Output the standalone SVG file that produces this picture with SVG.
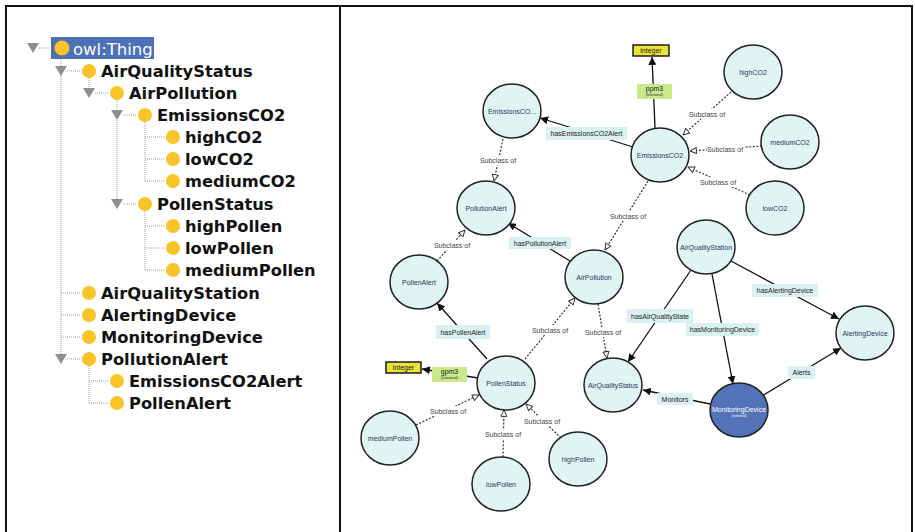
<svg xmlns="http://www.w3.org/2000/svg" width="915" height="532" viewBox="0 0 915 532">
<defs>
<style>
.tri{fill:#8e8e8e}
.tl{stroke:#a0a0a0;stroke-width:1;stroke-dasharray:1 1;fill:none}
.ic{fill:#F8C427}
.cls{font-family:"DejaVu Sans",Verdana,sans-serif;font-weight:bold;font-size:16.3px;fill:#111}
.nd{fill:#E1F4F4;stroke:#222;stroke-width:1.5}
.nt{font-family:"Liberation Sans",Arial,sans-serif;font-size:7px;fill:#24375a;text-anchor:middle}
.prop{stroke:#111;stroke-width:1.3;fill:none;marker-end:url(#arr)}
.sub{stroke:#333;stroke-width:1.2;stroke-dasharray:2 1.6;fill:none;marker-end:url(#hol)}
.lb{fill:#DBF1F1}
.lt{font-family:"Liberation Sans",Arial,sans-serif;font-size:7px;fill:#222;text-anchor:middle}
.st{font-family:"Liberation Sans",Arial,sans-serif;font-size:7px;fill:#444;text-anchor:middle}
.sbg{fill:#fff}
.dt{fill:#E9E23A;stroke:#111;stroke-width:1.4}
.fn{fill:#C9EA8C}
</style>
<marker id="arr" viewBox="0 0 10 10" refX="10" refY="5" markerWidth="8" markerHeight="8" markerUnits="userSpaceOnUse" orient="auto">
<path d="M0,0 L10,5 L0,10 z" fill="#111"/>
</marker>
<marker id="hol" viewBox="0 0 10 10" refX="9.5" refY="5" markerWidth="7.5" markerHeight="7.5" markerUnits="userSpaceOnUse" orient="auto">
<path d="M1,1 L9.5,5 L1,9 z" fill="#fff" stroke="#333" stroke-width="1.3" stroke-dasharray="none"/>
</marker>
</defs>
<rect width="915" height="532" fill="#fff"/>
<path d="M6,532 V6 H912 V532 M340,6 V532" fill="none" stroke="#111" stroke-width="2"/>

<!-- Left tree -->
<g id="tree-lines">
<path class="tl" d="M61,59 V359 M89,78 V93 M117,100 V204 M145,122 V181 M145,211 V270 M89,366 V403"/>
<path class="tl" d="M39,48 H54 M67,71 H81 M95,93 H109 M123,115 H137 M145,137 H165 M145,159 H165 M145,181 H165 M123,204 H137 M145,226 H165 M145,248 H165 M145,270 H165 M61,293 H81 M61,315 H81 M61,337 H81 M67,359 H81 M89,381 H109 M89,403 H109"/>
</g>
<g id="t-owlThing">
<rect x="51" y="37" width="103" height="22" fill="#4d71b6"/>
<path class="tri" d="M27,43 H39 L33,53 z"/>
<circle class="ic" cx="62" cy="48" r="7.5"/>
<text x="73" y="55" font-family="DejaVu Sans,Verdana,sans-serif" font-size="16.5" fill="#fff">owl:Thing</text>
</g>
<g id="t-AirQualityStatus"><path class="tri" d="M55,66 H67 L61,76 z"/><circle class="ic" cx="89" cy="71" r="7"/><text class="cls" x="101" y="77">AirQualityStatus</text></g>
<g id="t-AirPollution"><path class="tri" d="M83,88 H95 L89,98 z"/><circle class="ic" cx="117" cy="93" r="7"/><text class="cls" x="129" y="99">AirPollution</text></g>
<g id="t-EmissionsCO2"><path class="tri" d="M111,110 H123 L117,120 z"/><circle class="ic" cx="145" cy="115" r="7"/><text class="cls" x="157" y="121">EmissionsCO2</text></g>
<g id="t-highCO2"><circle class="ic" cx="173" cy="137" r="7"/><text class="cls" x="185" y="143">highCO2</text></g>
<g id="t-lowCO2"><circle class="ic" cx="173" cy="159" r="7"/><text class="cls" x="185" y="165">lowCO2</text></g>
<g id="t-mediumCO2"><circle class="ic" cx="173" cy="181" r="7"/><text class="cls" x="185" y="187">mediumCO2</text></g>
<g id="t-PollenStatus"><path class="tri" d="M111,199 H123 L117,209 z"/><circle class="ic" cx="145" cy="204" r="7"/><text class="cls" x="157" y="210">PollenStatus</text></g>
<g id="t-highPollen"><circle class="ic" cx="173" cy="226" r="7"/><text class="cls" x="185" y="232">highPollen</text></g>
<g id="t-lowPollen"><circle class="ic" cx="173" cy="248" r="7"/><text class="cls" x="185" y="254">lowPollen</text></g>
<g id="t-mediumPollen"><circle class="ic" cx="173" cy="270" r="7"/><text class="cls" x="185" y="276">mediumPollen</text></g>
<g id="t-AirQualityStation"><circle class="ic" cx="89" cy="293" r="7"/><text class="cls" x="101" y="299">AirQualityStation</text></g>
<g id="t-AlertingDevice"><circle class="ic" cx="89" cy="315" r="7"/><text class="cls" x="101" y="321">AlertingDevice</text></g>
<g id="t-MonitoringDevice"><circle class="ic" cx="89" cy="337" r="7"/><text class="cls" x="101" y="343">MonitoringDevice</text></g>
<g id="t-PollutionAlert"><path class="tri" d="M55,354 H67 L61,364 z"/><circle class="ic" cx="89" cy="359" r="7"/><text class="cls" x="101" y="365">PollutionAlert</text></g>
<g id="t-EmissionsCO2Alert"><circle class="ic" cx="117" cy="381" r="7"/><text class="cls" x="129" y="387">EmissionsCO2Alert</text></g>
<g id="t-PollenAlert"><circle class="ic" cx="117" cy="403" r="7"/><text class="cls" x="129" y="409">PollenAlert</text></g>

<!-- Graph connectors -->
<g id="connectors">
<path class="prop" d="M633,147 L540,118"/>
<path class="prop" d="M655,128 L652,57"/>
<path class="prop" d="M570,261 L508,223"/>
<path class="prop" d="M487,359 L437,303"/>
<path class="prop" d="M478,378 L422,369"/>
<path class="prop" d="M691,270 L628,362"/>
<path class="prop" d="M712,274 L733,384"/>
<path class="prop" d="M731,261 L839,319"/>
<path class="prop" d="M762,396 L841,348"/>
<path class="prop" d="M710,404 L643,390"/>
<path class="sub" d="M503,139 L494,181"/>
<path class="sub" d="M648,181 L605,250"/>
<path class="sub" d="M731,92 L683,135"/>
<path class="sub" d="M762,146 L690,151"/>
<path class="sub" d="M750,195 L688,167"/>
<path class="sub" d="M437,261 L465,230"/>
<path class="sub" d="M525,359 L575,298"/>
<path class="sub" d="M598,304 L607,358"/>
<path class="sub" d="M416,425 L479,395"/>
<path class="sub" d="M503,457 L504,410"/>
<path class="sub" d="M561,438 L526,404"/>
<!-- property labels -->
<rect class="lb" x="546" y="127" width="81" height="13"/><text class="lt" x="586.5" y="136">hasEmissionsCO2Alert</text>
<rect class="fn" x="637" y="84" width="35" height="15"/><text class="lt" x="654.5" y="91" font-size="6.5">ppm3</text><text class="lt" transform="translate(654.5,96.3) scale(0.5)" font-size="8">(functional)</text>
<rect class="lb" x="509" y="237" width="62" height="12"/><text class="lt" x="540" y="246">hasPollutionAlert</text>
<rect class="lb" x="436" y="325" width="54" height="14"/><text class="lt" x="463" y="334.5">hasPollenAlert</text>
<rect class="fn" x="432" y="367" width="35" height="15"/><text class="lt" x="449.5" y="374" font-size="6.5">gpm3</text><text class="lt" transform="translate(449.5,379.3) scale(0.5)" font-size="8">(functional)</text>
<rect class="lb" x="627" y="309" width="66" height="14"/><text class="lt" x="660" y="318.5">hasAirQualityState</text>
<rect class="lb" x="686" y="323" width="73" height="13"/><text class="lt" x="722.5" y="332">hasMonitoringDevice</text>
<rect class="lb" x="752" y="284" width="66" height="13"/><text class="lt" x="785" y="293">hasAlertingDevice</text>
<rect class="lb" x="788" y="366" width="27" height="13"/><text class="lt" x="801.5" y="375">Alerts</text>
<rect class="lb" x="657" y="393" width="36" height="12"/><text class="lt" x="675" y="401.5">Monitors</text>
<!-- subclass labels -->
<rect class="sbg" x="480" y="155" width="37" height="10"/><text class="st" x="498" y="162.5">Subclass of</text>
<rect class="sbg" x="610" y="211" width="37" height="10"/><text class="st" x="628" y="218.5">Subclass of</text>
<rect class="sbg" x="689" y="109" width="37" height="10"/><text class="st" x="707" y="116.5">Subclass of</text>
<rect class="sbg" x="707" y="144" width="37" height="10"/><text class="st" x="725" y="151.5">Subclass of</text>
<rect class="sbg" x="700" y="177" width="37" height="10"/><text class="st" x="718" y="184.5">Subclass of</text>
<rect class="sbg" x="434" y="240" width="37" height="10"/><text class="st" x="452" y="247.5">Subclass of</text>
<rect class="sbg" x="532" y="325" width="37" height="10"/><text class="st" x="550" y="332.5">Subclass of</text>
<rect class="sbg" x="585" y="327" width="37" height="10"/><text class="st" x="603" y="334.5">Subclass of</text>
<rect class="sbg" x="430" y="406" width="37" height="10"/><text class="st" x="448" y="413.5">Subclass of</text>
<rect class="sbg" x="485" y="429" width="37" height="10"/><text class="st" x="503" y="436.5">Subclass of</text>
<rect class="sbg" x="524" y="416" width="37" height="10"/><text class="st" x="542" y="423.5">Subclass of</text>
</g>

<!-- Graph nodes -->
<g id="n-integer1"><rect class="dt" x="633" y="45" width="36" height="11"/><text class="lt" x="651" y="52.5" font-size="6">integer</text></g>
<g id="n-integer2"><rect class="dt" x="386" y="362" width="35" height="11"/><text class="lt" x="403.5" y="369.5" font-size="6">integer</text></g>
<g id="n-EmissionsCO2Alert"><ellipse class="nd" cx="512" cy="111" rx="29" ry="27"/><text class="nt" x="512" y="113.5">EmissionsCO...</text></g>
<g id="n-EmissionsCO2"><ellipse class="nd" cx="660" cy="155" rx="29" ry="27"/><text class="nt" x="660" y="157.5">EmissionsCO2</text></g>
<g id="n-highCO2"><ellipse class="nd" cx="753" cy="72" rx="29" ry="27"/><text class="nt" x="753" y="74.5">highCO2</text></g>
<g id="n-mediumCO2"><ellipse class="nd" cx="790" cy="142" rx="29" ry="27"/><text class="nt" x="790" y="144.5">mediumCO2</text></g>
<g id="n-lowCO2"><ellipse class="nd" cx="775" cy="208" rx="29" ry="27"/><text class="nt" x="775" y="210.5">lowCO2</text></g>
<g id="n-PollutionAlert"><ellipse class="nd" cx="486" cy="208" rx="29" ry="27"/><text class="nt" x="486" y="210.5">PollutionAlert</text></g>
<g id="n-PollenAlert"><ellipse class="nd" cx="419" cy="282" rx="29" ry="27"/><text class="nt" x="419" y="284.5">PollenAlert</text></g>
<g id="n-AirPollution"><ellipse class="nd" cx="594" cy="277" rx="29" ry="27"/><text class="nt" x="594" y="279.5">AirPollution</text></g>
<g id="n-AirQualityStation"><ellipse class="nd" cx="706" cy="247" rx="29" ry="27"/><text class="nt" x="706" y="249.5">AirQualityStation</text></g>
<g id="n-AlertingDevice"><ellipse class="nd" cx="865" cy="333" rx="29" ry="27"/><text class="nt" x="865" y="335.5">AlertingDevice</text></g>
<g id="n-AirQualityStatus"><ellipse class="nd" cx="613" cy="385" rx="29" ry="27"/><text class="nt" x="613" y="387.5">AirQualityStatus</text></g>
<g id="n-MonitoringDevice"><ellipse cx="739" cy="410" rx="29" ry="27" fill="#5273B8" stroke="#222" stroke-width="1.5"/><text class="nt" x="739" y="411.5" style="fill:#fff" font-size="6.6">MonitoringDevice</text><text class="nt" transform="translate(739,416.5) scale(0.5)" style="fill:#fff" font-size="8">(external)</text></g>
<g id="n-PollenStatus"><ellipse class="nd" cx="506" cy="383" rx="29" ry="27"/><text class="nt" x="506" y="385.5">PollenStatus</text></g>
<g id="n-mediumPollen"><ellipse class="nd" cx="390" cy="438" rx="29" ry="27"/><text class="nt" x="390" y="440.5">mediumPollen</text></g>
<g id="n-lowPollen"><ellipse class="nd" cx="501" cy="484" rx="29" ry="27"/><text class="nt" x="501" y="486.5">lowPollen</text></g>
<g id="n-highPollen"><ellipse class="nd" cx="578" cy="459" rx="29" ry="27"/><text class="nt" x="578" y="461.5">highPollen</text></g>
</svg>
